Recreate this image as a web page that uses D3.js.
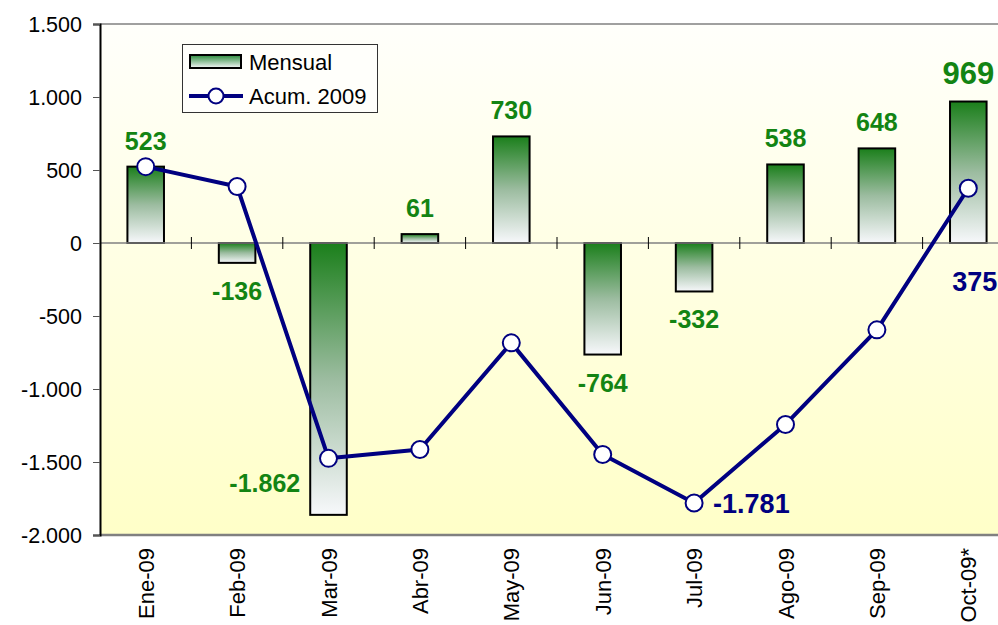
<!DOCTYPE html>
<html><head><meta charset="utf-8">
<script src="https://cdn.jsdelivr.net/npm/d3@7"></script>
<style>body{margin:0;background:#fff;}svg{display:block;font-family:Arial,"Liberation Sans",sans-serif;}</style>
</head><body>
<svg id="c" width="998" height="625"></svg>
<script>
const categories = ["Ene-09","Feb-09","Mar-09","Abr-09","May-09","Jun-09","Jul-09","Ago-09","Sep-09","Oct-09*"];
const mensual = [523,-136,-1862,61,730,-764,-332,538,648,969];
const acumulado = [523,387,-1475,-1414,-684,-1448,-1781,-1243,-595,375];
const yTicks = [1500,1000,500,0,-500,-1000,-1500,-2000];
const seriesNames = ["Mensual","Acum. 2009"];

const svg = d3.select("#c");
const L = 100, R = 1014, T = 24, B = 535;
const loc = d3.formatLocale({decimal:",", thousands:".", grouping:[3], currency:["",""], minus:"-"});
const fmt = loc.format(",");

const defs = svg.append("defs");
const bg = defs.append("linearGradient").attr("id","bg").attr("x1",0).attr("y1",0).attr("x2",0).attr("y2",1);
bg.append("stop").attr("offset","0%").attr("stop-color","#fffffb");
bg.append("stop").attr("offset","100%").attr("stop-color","#ffffc8");
const bar = defs.append("linearGradient").attr("id","bar").attr("x1",0).attr("y1",0).attr("x2",0).attr("y2",1);
bar.append("stop").attr("offset","0%").attr("stop-color","#1b7f1b");
bar.append("stop").attr("offset","50%").attr("stop-color","#9cbca0");
bar.append("stop").attr("offset","100%").attr("stop-color","#f7f8fb");

const x = d3.scaleBand().domain(categories).range([L,R]).paddingInner(0.6).paddingOuter(0.3);
const xc = d3.scaleBand().domain(categories).range([L,R]);
const y = d3.scaleLinear().domain([-2000,1500]).range([B,T]);
const cxOf = i => xc(categories[i])+xc.bandwidth()/2;

svg.append("rect").attr("x",L).attr("y",T).attr("width",R-L).attr("height",B-T).attr("fill","url(#bg)");
svg.append("line").attr("x1",L).attr("x2",R).attr("y1",T).attr("y2",T).attr("stroke","#808080").attr("stroke-width",1.5);
svg.append("line").attr("x1",L).attr("x2",R).attr("y1",B).attr("y2",B).attr("stroke","#808080").attr("stroke-width",2.5);

// bars
svg.selectAll("rect.bar").data(mensual).join("rect").attr("class","bar")
  .attr("x",(d,i)=>x(categories[i]))
  .attr("width",x.bandwidth())
  .attr("y",d=>y(Math.max(0,d)))
  .attr("height",d=>Math.abs(y(d)-y(0)))
  .attr("fill","url(#bar)").attr("stroke","#000").attr("stroke-width",2);

// zero line with category boundary ticks
svg.append("line").attr("x1",L).attr("x2",R).attr("y1",y(0)).attr("y2",y(0)).attr("stroke","#808080").attr("stroke-width",1.5);
svg.selectAll("line.ct").data(categories.slice(1)).join("line").attr("class","ct")
  .attr("x1",d=>xc(d)).attr("x2",d=>xc(d)).attr("y1",y(0)-6).attr("y2",y(0)+6)
  .attr("stroke","#000").attr("stroke-width",1);

// y axis
const ya = svg.append("g").attr("transform",`translate(${L},0)`)
  .call(d3.axisLeft(y).tickValues(yTicks).tickFormat(fmt).tickSize(7).tickPadding(11));
ya.select(".domain").attr("stroke","#000").attr("stroke-width",2);
ya.selectAll(".tick line").attr("stroke","#555");
ya.selectAll("text").attr("font-size",21.5).attr("fill","#000").attr("font-family","Arial, 'Liberation Sans', sans-serif").attr("dy","0.35em");

// x labels
svg.selectAll("text.xl").data(categories).join("text").attr("class","xl")
  .attr("transform",(d,i)=>`translate(${cxOf(i)+8},548) rotate(-90)`)
  .attr("text-anchor","end").attr("font-size",22).attr("fill","#000").text(d=>d);

// line
const lineGen = d3.line().x((d,i)=>cxOf(i)).y(d=>y(d));
svg.append("path").attr("d",lineGen(acumulado)).attr("fill","none").attr("stroke","#000080").attr("stroke-width",4).attr("stroke-linejoin","round");
svg.selectAll("circle.pt").data(acumulado).join("circle").attr("class","pt")
  .attr("cx",(d,i)=>cxOf(i)).attr("cy",d=>y(d)).attr("r",8.5)
  .attr("fill","#fff").attr("stroke","#000080").attr("stroke-width",2);

// bar labels
svg.selectAll("text.bl").data(mensual).join("text").attr("class","bl")
  .attr("x",(d,i)=> i===2 ? x(categories[i])-10 : cxOf(i))
  .attr("y",(d,i)=> i===2 ? y(-1705) : (d>=0 ? y(d)-(i===9?18:17) : y(d)+37))
  .attr("text-anchor",(d,i)=> i===2 ? "end" : "middle")
  .attr("font-size",(d,i)=> i===9 ? 31 : 25).attr("font-weight","bold").attr("fill","#138413")
  .text(d=>fmt(d));

// line labels
svg.append("text").attr("x",cxOf(6)+19).attr("y",y(acumulado[6])+10).attr("font-size",27).attr("font-weight","bold").attr("fill","#000080").text(fmt(acumulado[6]));
svg.append("text").attr("x",cxOf(9)-16).attr("y",y(0)+48).attr("text-anchor","start").attr("font-size",27).attr("font-weight","bold").attr("fill","#000080").text(fmt(acumulado[9]));

// legend
const lg = svg.append("g");
lg.append("rect").attr("x",182.5).attr("y",44.5).attr("width",195).attr("height",68).attr("fill","#fffffb").attr("stroke","#333").attr("stroke-width",1);
const sg = defs.append("linearGradient").attr("id","sw").attr("x1",0).attr("y1",0).attr("x2",0).attr("y2",1);
sg.append("stop").attr("offset","0%").attr("stop-color","#2a8a3a");
sg.append("stop").attr("offset","100%").attr("stop-color","#f7f8fb");
lg.append("rect").attr("x",190).attr("y",55).attr("width",51).attr("height",13).attr("fill","url(#sw)").attr("stroke","#000").attr("stroke-width",2);
lg.append("text").attr("x",249).attr("y",70).attr("font-size",22).attr("fill","#000").text(seriesNames[0]);
lg.append("line").attr("x1",189).attr("x2",243).attr("y1",96).attr("y2",96).attr("stroke","#000080").attr("stroke-width",4);
lg.append("circle").attr("cx",216).attr("cy",96).attr("r",7.5).attr("fill","#fff").attr("stroke","#000080").attr("stroke-width",2);
lg.append("text").attr("x",249).attr("y",104).attr("font-size",22).attr("fill","#000").text(seriesNames[1]);
</script>
</body></html>
